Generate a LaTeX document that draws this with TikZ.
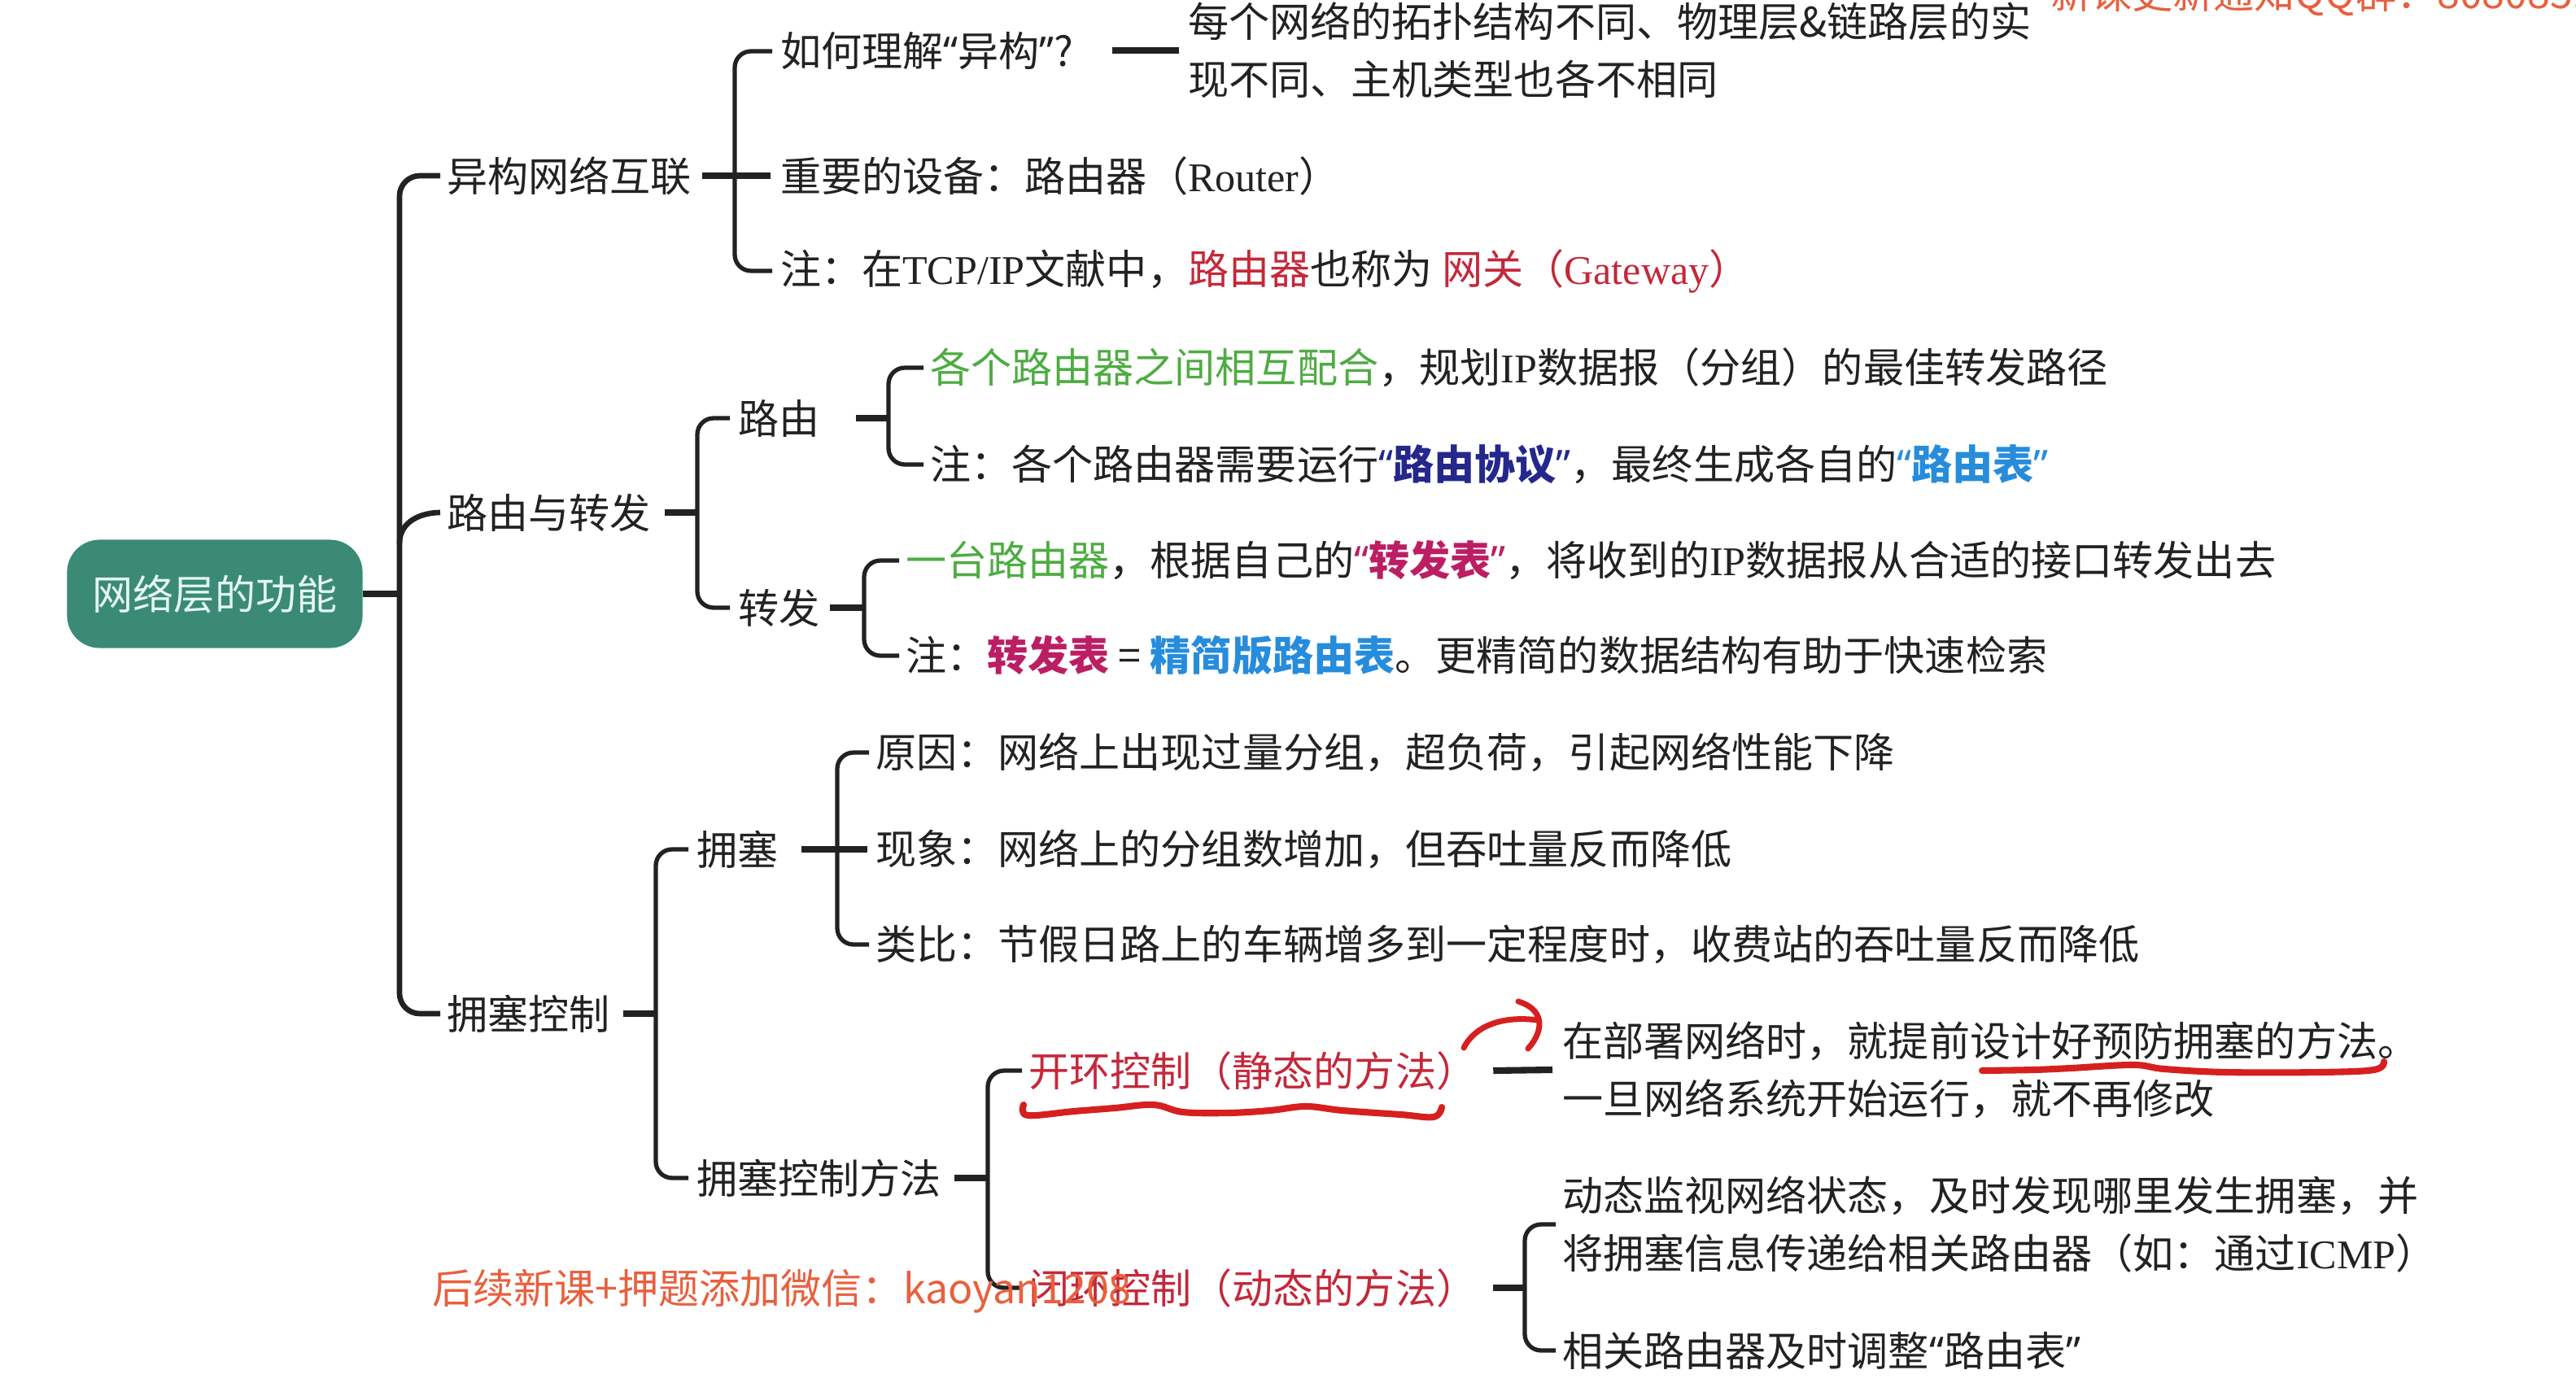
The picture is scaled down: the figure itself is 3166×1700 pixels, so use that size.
\documentclass[tikz,border=0pt]{standalone}
\usepackage{fontspec}
\setmainfont{Noto Sans CJK SC}
\newfontfamily\lat{Liberation Serif}
\newfontfamily\qfont{Noto Sans}
\newcommand{\oq}{{\qfont “}}
\newcommand{\cq}{{\qfont ”}}
\usetikzlibrary{calc}
\definecolor{ink}{RGB}{34,34,34}
\definecolor{rootc}{RGB}{58,138,118}
\definecolor{roottxt}{RGB}{228,248,240}
\definecolor{redt}{RGB}{196,40,58}
\definecolor{greent}{RGB}{78,172,66}
\definecolor{dblue}{RGB}{36,40,140}
\definecolor{lblue}{RGB}{38,140,220}
\definecolor{magt}{RGB}{188,30,100}
\definecolor{wmc}{RGB}{232,96,62}
\definecolor{penred}{RGB}{214,32,32}
\begin{document}
\begin{tikzpicture}[x=0.01cm,y=-0.01cm,
  txt/.style={anchor=west, inner sep=0pt, outer sep=0pt, font=\fontsize{14.25pt}{20.2pt}\selectfont, text=ink},
  blk/.style={txt, align=left},
  rootbox/.style={fill=rootc, rounded corners=0.4cm, minimum width=3.63cm, minimum height=1.33cm,
    inner sep=0pt, text=roottxt, font=\fontsize{14.25pt}{20.2pt}\selectfont},
  bar/.style={draw=ink, line width=1.5pt, rounded corners=0.2cm},
  trunk/.style={draw=ink, line width=1.9pt, rounded corners=0.25cm},
  stub/.style={draw=ink, line width=2.3pt},
  pen/.style={draw=penred, line width=2pt, line cap=round, line join=round},
  wm/.style={txt, text=wmc}]
\useasboundingbox (0,0) rectangle (3166,1700);
\clip (0,0) rectangle (3166,1700);

% root
\node[rootbox] (root) at (264,730) {网络层的功能};
\coordinate (T) at (491,730);
\draw[stub] (root.east) -- (T);

% level 1
\node[txt] (a) at (549,216) {异构网络互联};
\node[txt] (b) at (549,630) {路由与转发};
\node[txt] (c) at (549,1246) {拥塞控制};
\draw[trunk] ([xshift=-0.08cm]a.west) -| (T) |- ([xshift=-0.08cm]c.west);
\draw[trunk] ($(T)+(0,-62)$) .. controls ($(T)+(0,-90)$) and ([xshift=-0.3cm]b.west) .. ([xshift=-0.08cm]b.west);

% branch a
\node[txt] (a1) at (959,63) {如何理解\oq 异构\cq ?};
\node[txt] (a2) at (959,216) {重要的设备：路由器（{\lat Router}）};
\node[txt] (a3) at (959,333) {注：在{\lat TCP/IP}文献中，\textcolor{redt}{路由器}也称为 \textcolor{redt}{网关（{\lat Gateway}）}};
\node[blk] (a1t) at (1460,62) {每个网络的拓扑结构不同、物理层\&链路层的实\\现不同、主机类型也各不相同};
\coordinate (Ba) at (903,216);
\draw[stub] ([xshift=0.13cm]a.east) -- ([xshift=-0.12cm]a2.west);
\draw[bar] ([xshift=-0.1cm]a1.west) -| (Ba) |- ([xshift=-0.1cm]a3.west);
\draw[stub] ([xshift=-0.93cm]a1t.west) -- ([xshift=-0.11cm]a1t.west);

% branch b
\node[txt] (b1) at (907,514) {路由};
\node[txt] (b2) at (907,747) {转发};
\coordinate (Bb) at (857,630);
\draw[stub] ([xshift=0.17cm]b.east) -- (Bb);
\draw[bar] ([xshift=-0.1cm]b1.west) -| (Bb) |- ([xshift=-0.1cm]b2.west);

\node[txt] (b11) at (1143,452) {\textcolor{greent}{各个路由器之间相互配合}，规划{\lat IP}数据报（分组）的最佳转发路径};
\node[txt] (b12) at (1143,571) {注：各个路由器需要运行\textcolor{dblue}{\bfseries\oq 路由协议\cq}，最终生成各自的\textcolor{lblue}{\bfseries\oq 路由表\cq}};
\coordinate (Bb1) at (1092,514);
\draw[stub] ([xshift=0.45cm]b1.east) -- (Bb1);
\draw[bar] ([xshift=-0.08cm]b11.west) -| (Bb1) |- ([xshift=-0.08cm]b12.west);

\node[txt] (b21) at (1113,689) {\textcolor{greent}{一台路由器}，根据自己的\textcolor{magt}{\bfseries\oq 转发表\cq}，将收到的{\lat IP}数据报从合适的接口转发出去};
\node[txt] (b22) at (1113,806) {注：\textcolor{magt}{\bfseries 转发表} = \textcolor{lblue}{\bfseries 精简版路由表}。更精简的数据结构有助于快速检索};
\coordinate (Bb2) at (1062,747);
\draw[stub] ([xshift=0.13cm]b2.east) -- (Bb2);
\draw[bar] ([xshift=-0.08cm]b21.west) -| (Bb2) |- ([xshift=-0.08cm]b22.west);

% branch c
\node[txt] (c1) at (856,1044) {拥塞};
\node[txt] (c2) at (856,1448) {拥塞控制方法};
\coordinate (Bc) at (806,1246);
\draw[stub] ([xshift=0.17cm]c.east) -- (Bc);
\draw[bar] ([xshift=-0.1cm]c1.west) -| (Bc) |- ([xshift=-0.1cm]c2.west);

\node[txt] (c11) at (1076,925) {原因：网络上出现过量分组，超负荷，引起网络性能下降};
\node[txt] (c12) at (1076,1044) {现象：网络上的分组数增加，但吞吐量反而降低};
\node[txt] (c13) at (1076,1161) {类比：节假日路上的车辆增多到一定程度时，收费站的吞吐量反而降低};
\coordinate (Bc1) at (1029,1044);
\draw[stub] ([xshift=0.29cm]c1.east) -- ([xshift=-0.1cm]c12.west);
\draw[bar] ([xshift=-0.08cm]c11.west) -| (Bc1) |- ([xshift=-0.08cm]c13.west);

\node[txt, text=redt] (c21) at (1264,1316) {开环控制（静态的方法）};
\node[txt, text=redt] (c22) at (1264,1583) {闭环控制（动态的方法）};
\coordinate (Bc2) at (1214,1448);
\draw[stub] ([xshift=0.16cm]c2.east) -- (Bc2);
\draw[bar] ([xshift=-0.08cm]c21.west) -| (Bc2) |- ([xshift=-0.08cm]c22.west);

\node[blk] (c21t) at (1920,1315) {在部署网络时，就提前设计好预防拥塞的方法。\\一旦网络系统开始运行，就不再修改};
\draw[stub] ([xshift=0.2cm]c21.east) -- ([xshift=-0.12cm]c21t.west);

\node[blk] (c221) at (1920,1505) {动态监视网络状态，及时发现哪里发生拥塞，并\\将拥塞信息传递给相关路由器（如：通过{\lat ICMP}）};
\node[txt] (c222) at (1920,1660) {相关路由器及时调整\oq 路由表\cq};
\coordinate (Bc22) at (1874,1583);
\draw[stub] ([xshift=0.2cm]c22.east) -- (Bc22);
\draw[bar] ([xshift=-0.08cm]c221.west) -| (Bc22) |- ([xshift=-0.08cm]c222.west);

% handwritten red marks
\draw[pen, line width=2.3pt] plot[smooth, tension=0.6] coordinates {(1258,1358) (1263,1371) (1320,1366) (1370,1362) (1418,1358) (1454,1367) (1510,1368) (1561,1365) (1605,1360) (1650,1365) (1721,1370) (1762,1373) (1772,1361)};
\draw[pen] (1799,1288) .. controls (1812,1262) and (1845,1248) .. (1890,1254);
\draw[pen] (1866,1231) .. controls (1896,1240) and (1900,1264) .. (1878,1289);
\draw[pen, line width=2.3pt] plot[smooth, tension=0.6] coordinates {(2436,1316) (2500,1315) (2545,1313) (2622,1309) (2660,1314) (2736,1318) (2851,1318) (2918,1315) (2930,1305)};

% watermarks
\node[wm] (wm1) at (531,1587) {后续新课+押题添加微信：kaoyan1208};
\node[wm] (wm2) at (2520,-6) {新课更新通知QQ群：8080859};
\end{tikzpicture}
\end{document}
